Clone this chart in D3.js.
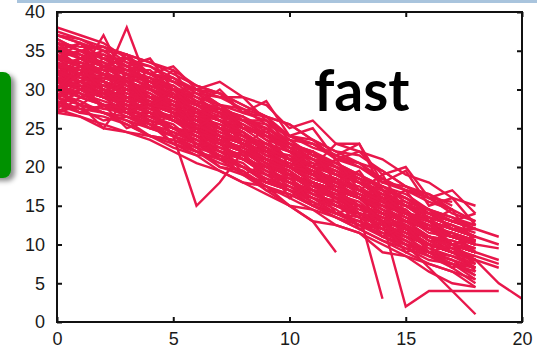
<!DOCTYPE html>
<html><head><meta charset="utf-8">
<script src="https://cdn.jsdelivr.net/npm/d3@7"></script>
<style>
html,body{margin:0;padding:0;background:#fff;}
svg{display:block;}
</style></head>
<body>
<svg id="chart" width="537" height="358"></svg>
<script>
// Data: each series = y values at x = 0,1,2,...
const s01 = [32,33,31,30,29,27,27,25,24,22,20,19,18,16,15,13,12,11,10];
const s02 = [30,31,32,29,28,28,26,24,23,21,19,18,17,15,14,12,11,10,9];
const s03 = [35,34,33,32,30,29,27,26,24,23,21,20,18,17,15,14,13,12,11];
const s04 = [28,30,29,28,27,25,24,23,21,20,18,17,15,14,13,11,10,9,8];
const s05 = [33,32,37,31,30,28,27,26,24,22,21,19,18,16,15,14,12,11];
const s06 = [31,32,31,38,30,29,27,25,23,22,20,18,17,15,14,12,10,9,8];
const s07 = [34,35,33,32,31,30,28,27,25,24,22,21,19,18,16,15,14,13,12,11];
const s08 = [29,28,30,29,27,24,15,18,22,20,19,17,16,14,13,12,10,9];
const s09 = [36,35,34,33,31,30,28,27,26,24,23,21,20,18,16,15,13,12];
const s10 = [32,30,29,28,27,26,25,23,22,20,19,18,16,15,14,13,12,11,10];
const s11 = [27,29,28,27,26,25,23,22,20,19,17,16,15,14,12,11,10,9];
const s12 = [33,34,32,31,29,28,26,25,23,22,20,19,17,16,14,13,11,10,9];
const s13 = [30,31,30,28,28,27,25,24,23,21,20,18,17,14,3];
const s14 = [37,36,35,33,32,30,29,27,26,25,23,22,20,19,17,16,14,13,12];
const s15 = [31,33,32,30,29,27,26,24,23,21,20,18,17,16,14,13,11,10,8,5,3];
const s16 = [34,32,31,30,28,27,26,24,22,21,19,18,16,15,13,12,10,9,8];
const s17 = [29,30,29,27,27,25,24,22,21,19,18,17,16,14,13,12,11,10];
const s18 = [32,31,33,32,31,29,28,27,25,24,22,21,19,18,16,15,13,12,11,10];
const s19 = [35,33,32,31,30,28,27,25,24,23,21,20,23,23,17,14,12,11,10];
const s20 = [30,29,28,28,26,25,24,22,21,20,18,17,15,14,13,11,10,9,7];
const s21 = [33,32,31,29,29,27,26,25,23,22,20,19,18,16,15,14,12,11];
const s22 = [31,30,29,30,28,27,25,24,22,21,19,18,16,15,13,12,11,9,8];
const s23 = [36,34,33,31,30,29,27,26,24,23,22,20,19,17,16,14,13,12,11];
const s24 = [32,33,30,29,28,26,25,23,22,20,19,17,16,15,13,12,10,9];
const s25 = [28,27,28,27,25,24,23,21,20,18,17,16,14,13,12,10,9,8,7];
const s26 = [34,33,32,31,29,28,26,25,24,22,21,19,18,16,13,2,4,4,4,4];
const s27 = [30,32,31,30,29,28,26,25,23,22,21,19,18,17,15,14,13,11,10];
const s28 = [33,31,30,29,28,26,25,24,22,21,19,18,17,15,14,12,11,10,9];
const s29 = [31,29,30,28,27,26,24,23,21,20,19,17,16,14,13,12,10,9,8];
const s30 = [37,36,34,34,32,31,29,28,26,25,23,22,20,19,17,16,14,13];
const s31 = [29,31,29,28,26,25,24,22,21,19,18,16,15,14,12,11,9,8,6];
const s32 = [32,34,33,31,30,29,27,26,24,23,21,20,18,17,16,14,13,12,11];
const s33 = [35,33,31,30,29,27,26,25,23,21,20,19,17,16,14,13,12,11,10];
const s34 = [30,28,27,26,25,24,22,21,20,18,17,15,14,13,11,10,9,7,5];
const s35 = [33,32,34,33,31,29,28,26,25,24,22,21,19,18,16,15,14,12,11];
const s36 = [31,33,31,30,28,27,26,24,23,21,20,19,17,16,14,13,12,10];
const s37 = [34,35,34,32,31,30,28,27,25,24,22,21,20,18,17,15,14,13,14];
const s38 = [32,30,29,29,27,26,25,23,22,21,19,18,16,15,14,12,11,10,9];
const s39 = [30,31,32,31,29,28,27,25,24,22,21,19,18,16,15,13,12,11,10];
const s40 = [36,34,33,32,30,29,28,26,25,23,22,20,19,18,16,15,13,12,11];
const s41 = [30,28,25,29,28,26,25,24,22,21,19,18,16,15,13,12,11,10,9];
const s42 = [27,28,27,26,24,23,22,21,19,18,17,15,14,13,11,10,9,8];
const s43 = [38,37,36,34,33,31,30,28,27,26,24,23,21,20,18,17,16,14,13];
const s44 = [33,31,32,30,29,28,26,24,23,22,20,18,17,16,14,13,12,10,9];
const s45 = [31,32,30,29,28,26,25,24,22,21,20,18,17,15,14,13,11,10,9,8];
const s46 = [31,30,29,28,27,25,24,23,21,20,18,17,15,14,12,10,7,4,1];
const s47 = [34,35,34,33,32,31,30,29,29,26,23,21,20,18,17,15,14,13,12];
const a01 = [34.5,33,33.5,31,31.5,29.5,27,27.5,25,24.5,22.5,20,19.5,18,16.5,15,13.5,12.5,11];
const a02 = [29,30.5,27.5,28,25.5,24.5,23,21.5,20.5,18,17.5,16,14.5,12.5,12,10.5,9,7.5,6];
const a03 = [36,35.5,35.5,34.5,32,31.5,30,29.5,27,26.5,24,23.5,21,20.5,18,17.5,16,14.5];
const a04 = [32.5,30,31.5,30.5,28,27.5,26.5,24,23.5,22.5,20,18.5,17.5,16,14.5,13,12.5,10,10.5];
const a05 = [28.5,27.5,26,26.5,25.5,23,21.5,21.5,19,17.5,16.5,15,13.5,12.5,11,9.5,8.5,7];
const a06 = [33,32.5,31.5,31.5,29,28.5,27.5,25,24.5,22,21.5,19,18.5,16.5,15.5,14.5,12,11.5,10.5];
const a07 = [31.5,30.5,29.5,28.5,27.5,26,25.5,23.5,22,20.5,18.5,18,16.5,15,13.5,11.5,11,9.5,8,7];
const a08 = [35,34.5,33.5,32.5,32.5,30,28.5,27.5,26.5,24,23.5,21.5,20,18.5,17.5,15.5,14.5,13.5,12];
const a09 = [30.5,29,29.5,27.5,26.5,25,24.5,22.5,21,19.5,18.5,16.5,15.5,14,12.5,11.5,10,9.5,7.5];
const a10 = [37,36.5,35.5,34.5,33.5,32.5,30.5,29.5,28,26.5,25.5,23.5,22,21.5,19.5,17.5,16.5,15];
const a11 = [27.5,26.5,25.5,24.5,24,22.5,21.5,19.5,18,17.5,15,14.5,12.5,11.5,10,8.5,7.5,6.5,4.5];
const a12 = [32,33.5,32.5,30.5,30,28.5,26.5,25.5,24.5,22.5,21,19.5,18.5,17,15.5,13.5,12.5,11.5,10.5];
const a13 = [33.5,31.5,30.5,30,28.5,27.5,26,25.5,23.5,21.5,20.5,19,17.5,16.5,14.5,13.5,12,11.5,9];
const a14 = [34,33.5,32.5,32.5,30.5,29.5,28,27.5,25.5,23.5,22.5,21,19.5,18.5,16,15.5,13.5,12.5,11.5];
const a15 = [29.5,28,27.5,27,25.5,24.5,23.5,21.5,20,18.5,17.5,15.5,14,13.5,11.5,10.5,8.5,7.5,7];
const a16 = [35.5,34.5,33,32.5,31.5,30.5,28.5,27.5,26,25.5,22.5,22,20.5,18.5,17.5,16.5,14.5,13.5,12.5];
const a17 = [31,30.5,30.5,28.5,27.5,26.5,25,23.5,22.5,21,19.5,17.5,16.5,15,13.5,12.5,10.5,10,9.5];
const a18 = [36.5,35,35.5,33.5,33,31.5,29.5,29,27.5,26.5,23.5,23,21.5,20.5,18.5,17,16.5,14.5];
const a19 = [30,29.5,28.5,27.5,26.5,25.5,23,22.5,21.5,19.5,17.5,16.5,15.5,13.5,12.5,11.5,9.5,8.5,7.5];
const a20 = [32.5,31.5,30.5,29.5,29,27.5,26.5,24.5,23.5,21.5,20.5,19.5,17.5,16,15.5,13.5,11.5,11,10.5];
const a21 = [33,32.5,30.5,31,29.5,27.5,26.5,26.5,24.5,22,21.5,20,18,17.5,15.5,14,13.5,11,10.5];
const a22 = [28,27.5,27,25.5,24,23.5,22,20.5,19.5,17,16.5,15,13.5,12,10.5,9.5,8,7.5,5.5];
const a23 = [34.5,33,32.5,32,31.5,29,28,26.5,25.5,24,22.5,20.5,19,18.5,16.5,15,14.5,12,12];
const a24 = [31.5,31,29.5,29,27,26.5,25,23.5,22.5,21,19.5,17.5,16,14.5,13.5,12.5,10.5,9,8.5];
const a25 = [35,34.5,33,32.5,31.5,30,29.5,27.5,26.5,25,23.5,21.5,20.5,19,17.5,16,14.5,13,12.5];
const a26 = [30.5,29.5,28,27.5,26.5,25,23.5,22.5,21.5,19,18.5,16.5,15,13.5,12.5,10.5,9,8.5,7];
const a27 = [32,31.5,31,29.5,28.5,27,25.5,24.5,23,21.5,20,19.5,17,16.5,14.5,12.5,11,10.5,9.5];
const a28 = [37.5,36.5,35,34.5,33.5,32,30.5,29.5,28,26.5,25.5,23.5,22,20.5,19.5,17.5,16,15.5];
const a29 = [29.5,28.5,27,26.5,25.5,24,22.5,21.5,20,18.5,17,15.5,14,12.5,11.5,10,8.5,7.5,6.5];
const a30 = [33.5,32.5,32,30.5,29.5,28,27.5,26,24.5,22.5,21,19.5,18.5,17,15.5,14.5,12,11.5,10.5];
const a31 = [31.5,30,29.5,28.5,27,26.5,24.5,23,22.5,20.5,19,17.5,16.5,14,13.5,11.5,10,9.5,8.5];
const a32 = [34,33.5,32,31.5,30.5,29,27.5,26,25.5,23.5,21,20.5,19.5,17,16.5,14,13.5,12.5,11];
const a33 = [27,26.5,25,24.5,23.5,22,20.5,19.5,18,16.5,15,13,12.5,11.5,9,8.5,6.5,5,4.5];
const a34 = [36.5,35,34.5,33.5,32,31.5,29.5,28,27.5,25.5,24,22.5,21.5,20,18.5,17,15.5,14.5,13];
const a35 = [32.5,31,30.5,29.5,28,27.5,25.5,24,23.5,21.5,20,18.5,17.5,16,14.5,12.5,11,10.5,9.5];
const a36 = [30,29.5,28,27.5,26.5,25,23.5,22,21.5,19.5,18,16.5,15,13.5,12.5,11,9,8.5,7.5];
const a37 = [35.5,34,34.5,32.5,31,30.5,28.5,27,26.5,24.5,23,21.5,20.5,19,17.5,16,14.5,13,12.5];
const a38 = [28.5,27,26.5,25.5,24,23.5,22.5,20,19.5,17.5,16,14.5,13.5,12,10.5,9,7.5,6.5,5.5];
const a39 = [33.5,32,31.5,30.5,29,28.5,26.5,25,24.5,22.5,21,19.5,18.5,17,15.5,14,12.5,11,10.5];
const a40 = [31,30.5,29,28.5,27.5,26,24.5,23.5,22,20.5,19.5,17,16.5,15.5,13,12.5,10.5,9,8.5,7.5];
const o01 = [29,27,28,25,26,23,22,20,19,17,15,13,9];
const o02 = [35,36,33,34,32,33,30,31,29,28,25,26,23,22,21,19,18,16,15];
const o03 = [30,32,29,31,28,30,27,28,26,26,24,25,21,22,19,20,16,17,14];
const o04 = [31,29,30,27,28,24,25,21,22,18,19,15,16,12,13,9,10,7,8];
const o05 = [33,34,35,33,34,30,30,28,25,24,22,19,21,17,19,14,13,10,11];
const o06 = [27.5,30,28,26.5,25,27,22.5,23.5,19,20.5,16,18,14,15,11,12.5,9,10,6.5];
const o07 = [34,36,32.5,34.5,30,32.5,28,30,27,28.5,24,23,21.5,23,18,19.5,15,16,12.5];
const o08 = [30,33,29.5,32,28,29.5,25,27,22.5,25,20,22,18,19.5,15.5,17,13,14.5,10,9.5];
const series = [s01,s02,s03,s04,s05,s06,s07,s08,s09,s10,s11,s12,s13,s14,s15,s16,s17,s18,s19,s20,
  s21,s22,s23,s24,s25,s26,s27,s28,s29,s30,s31,s32,s33,s34,s35,s36,s37,s38,s39,s40,s41,s42,s43,s44,s45,s46,s47,
  a01,a02,a03,a04,a05,a06,a07,a08,a09,a10,a11,a12,a13,a14,a15,a16,a17,a18,a19,a20,
  a21,a22,a23,a24,a25,a26,a27,a28,a29,a30,a31,a32,a33,a34,a35,a36,a37,a38,a39,a40,
  o01,o02,o03,o04,o05,o06,o07,o08];
const xTicks = [0,5,10,15,20];
const yTicks = [0,5,10,15,20,25,30,35,40];
const label = "fast";

const svg = d3.select("#chart");
const L = 57, R = 522, T = 12, B = 322;
const x = d3.scaleLinear().domain([0,20]).range([L,R]);
const y = d3.scaleLinear().domain([0,40]).range([B,T]);

// top light-blue band
svg.append("rect").attr("x",17).attr("y",0).attr("width",520).attr("height",3).attr("fill","#a9c4dd");

// green box with shadow at left edge
const defs = svg.append("defs");
const f = defs.append("filter").attr("id","sh").attr("x","-50%").attr("y","-20%").attr("width","200%").attr("height","150%");
f.append("feDropShadow").attr("dx",4).attr("dy",3).attr("stdDeviation",2.5).attr("flood-color","#000").attr("flood-opacity",0.45);
svg.append("rect").attr("x",-20).attr("y",72).attr("width",31).attr("height",106).attr("rx",8)
  .attr("fill","#009100").attr("filter","url(#sh)");

// lines
svg.append("clipPath").attr("id","clip").append("rect").attr("x",L).attr("y",T).attr("width",R-L).attr("height",B-T);
const line = d3.line().x((d,i)=>x(i)).y(d=>y(d));
svg.append("g").attr("clip-path","url(#clip)").selectAll("path").data(series).join("path")
  .attr("d",line).attr("fill","none").attr("stroke","#e8174b").attr("stroke-width",2.4).attr("stroke-linejoin","miter");

// axes
const fontFam = "'Liberation Sans', Arial, sans-serif";
const gx = svg.append("g").attr("transform",`translate(0,${B})`)
  .call(d3.axisBottom(x).tickValues(xTicks).tickSize(-5).tickPadding(10).tickFormat(d3.format("d")));
const gxt = svg.append("g").attr("transform",`translate(0,${T})`)
  .call(d3.axisTop(x).tickValues(xTicks).tickSize(-5).tickFormat(""));
const gy = svg.append("g").attr("transform",`translate(${L},0)`)
  .call(d3.axisLeft(y).tickValues(yTicks).tickSize(-5).tickPadding(12).tickFormat(d3.format("d")));
const gyr = svg.append("g").attr("transform",`translate(${R},0)`)
  .call(d3.axisRight(y).tickValues(yTicks).tickSize(-5).tickFormat(""));
[gx,gxt,gy,gyr].forEach(g=>{
  g.select(".domain").remove();
  g.selectAll(".tick line").attr("stroke","#111").attr("stroke-width",2);
  g.selectAll("text").attr("font-family",fontFam).attr("font-size",18).attr("fill","#1a1a1a");
});
// frame
svg.append("rect").attr("x",L).attr("y",T).attr("width",R-L).attr("height",B-T)
  .attr("fill","none").attr("stroke","#111").attr("stroke-width",2);

// label
svg.append("text").attr("x",314).attr("y",111).text(label)
  .attr("font-family","Lato, 'Open Sans', sans-serif").attr("font-weight","bold").attr("font-size",57).attr("fill","#000");
</script>
</body></html>
